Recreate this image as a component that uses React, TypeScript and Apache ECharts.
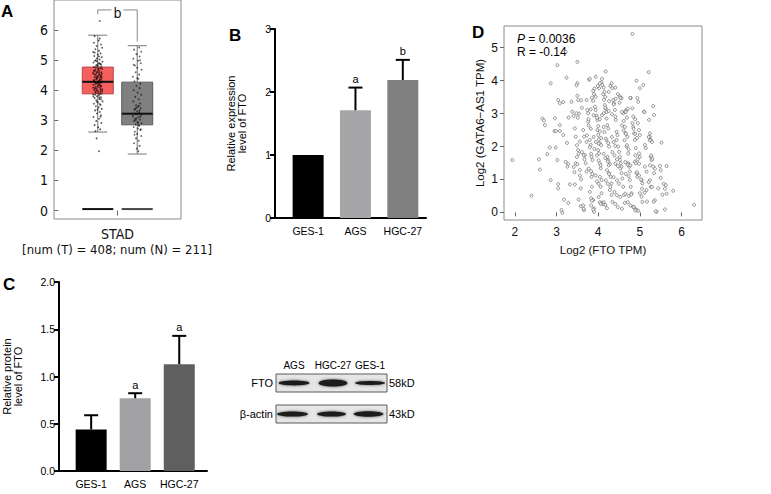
import React, { useEffect, useRef } from 'react';
import * as echarts from 'echarts';

const FONT = "'Liberation Sans', Arial, sans-serif";
const NARROW = "'Liberation Sans Narrow', 'DejaVu Sans Condensed', 'Liberation Sans', Arial, sans-serif";

// ---------- Panel A (GEPIA box plot) ----------
const aCategory = 'STAD';
const aSubtitle = '[num (T) = 408; num (N) = 211]';
const aTicks = [0, 1, 2, 3, 4, 5, 6];
const boxPositions = [1, 2];
// [min, Q1, median, Q3, max]
const tumorBox = [2.61, 3.88, 4.28, 4.77, 5.83];
const normalBox = [1.88, 2.85, 3.22, 4.27, 5.48];
const boxFloorLevel = [0.05, 0.05];
const boxFill = ['#f55f5f', '#808080'];
const boxStroke = ['#b94848', '#5c5c5c'];
const floorColor = ['#111111', '#444444'];
const aSigLabel = 'b';
// [leftX, rightX, top, leftEnd, rightEnd]
const aBracket = [1, 2, 6.67, 6.52, 5.62];
// [x offset, value]
const tumorJitter = [
  [-0.08, 5.80], [0.05, 5.72], [0.02, 5.65], [-0.10, 5.58], [0.08, 5.52], [-0.03, 5.47], [0.11, 5.41], [-0.06, 5.36],
  [0.03, 5.31], [-0.12, 5.27], [0.07, 5.22], [0.00, 5.18], [-0.09, 5.14], [0.10, 5.10], [-0.02, 5.06], [0.05, 5.02],
  [-0.07, 4.98], [0.12, 4.95], [-0.11, 4.92], [0.02, 4.89], [0.08, 4.86], [-0.04, 4.83], [0.00, 4.80], [-0.10, 4.77],
  [0.06, 4.74], [0.11, 4.71], [-0.06, 4.68], [0.03, 4.65], [-0.01, 4.62], [0.09, 4.60], [-0.12, 4.57], [0.04, 4.54],
  [-0.05, 4.52], [0.07, 4.49], [0.00, 4.46], [-0.08, 4.44], [0.10, 4.41], [-0.03, 4.39], [0.05, 4.36], [-0.10, 4.34],
  [0.02, 4.31], [0.12, 4.29], [-0.06, 4.27], [0.08, 4.25], [-0.02, 4.22], [0.04, 4.20], [-0.11, 4.18], [0.01, 4.15],
  [0.09, 4.13], [-0.07, 4.11], [0.05, 4.08], [-0.03, 4.06], [0.11, 4.03], [-0.09, 4.01], [0.00, 3.98], [0.06, 3.95],
  [-0.05, 3.92], [0.10, 3.89], [-0.12, 3.86], [0.03, 3.83], [-0.02, 3.80], [0.08, 3.77], [-0.08, 3.74], [0.04, 3.71],
  [-0.04, 3.67], [0.12, 3.63], [0.00, 3.59], [-0.10, 3.55], [0.07, 3.51], [-0.05, 3.47], [0.02, 3.43], [0.10, 3.38],
  [-0.07, 3.33], [0.05, 3.28], [-0.02, 3.23], [0.08, 3.17], [-0.11, 3.11], [0.03, 3.05], [-0.04, 2.98], [0.09, 2.91],
  [-0.08, 2.84], [0.01, 2.77], [0.06, 2.70], [-0.06, 2.64], [-0.03, 2.40], [0.03, 1.97], [0.05, 6.30],
  [0.01, 4.72], [-0.03, 4.58], [0.06, 4.43], [-0.09, 4.32], [0.03, 4.24], [-0.01, 4.12], [0.07, 4.02], [-0.06, 3.94],
  [0.10, 4.55], [-0.10, 4.65], [0.04, 4.90], [-0.05, 5.00], [0.08, 3.70], [-0.02, 3.62], [0.02, 4.50], [-0.04, 4.37],
  [0.05, 4.17], [-0.07, 4.05], [0.09, 4.79], [-0.01, 4.84], [0.03, 5.12], [-0.08, 5.25], [0.06, 3.88], [-0.11, 3.79],
  [-0.01, 4.41], [0.04, 4.33], [-0.06, 4.21], [0.07, 4.14], [-0.03, 4.00], [0.01, 3.91], [0.09, 4.47], [-0.09, 4.53],
  [0.02, 4.69], [-0.05, 4.76], [0.06, 4.87], [-0.02, 4.96], [0.11, 3.97], [-0.07, 3.85], [0.04, 3.76], [-0.12, 4.08],
  [0.00, 4.26], [0.08, 4.35], [-0.04, 4.45], [0.03, 4.59], [-0.08, 4.63], [0.05, 3.54], [-0.01, 3.35], [0.07, 3.12],
];
const normalJitter = [
  [0.05, 5.42], [-0.08, 5.35], [0.10, 5.28], [-0.02, 5.20], [0.06, 5.12], [-0.10, 5.05], [0.02, 4.98], [0.09, 4.90],
  [-0.06, 4.82], [0.00, 4.75], [0.11, 4.68], [-0.04, 4.60], [0.05, 4.52], [-0.11, 4.45], [0.03, 4.38], [-0.07, 4.30],
  [0.08, 4.22], [-0.02, 4.15], [0.06, 4.07], [-0.09, 4.00], [0.01, 3.92], [0.10, 3.85], [-0.05, 3.78], [0.04, 3.70],
  [-0.10, 3.63], [0.07, 3.56], [-0.03, 3.50], [0.02, 3.45], [0.09, 3.40], [-0.07, 3.35], [0.00, 3.30], [0.05, 3.26],
  [-0.05, 3.22], [0.10, 3.18], [-0.11, 3.14], [0.03, 3.10], [-0.02, 3.06], [0.07, 3.02], [-0.08, 2.98], [0.01, 2.94],
  [0.11, 2.90], [-0.04, 2.86], [0.05, 2.82], [-0.09, 2.78], [0.02, 2.73], [0.08, 2.68], [-0.06, 2.62], [0.00, 2.55],
  [0.10, 2.48], [-0.03, 2.40], [0.04, 2.32], [-0.08, 2.24], [0.06, 2.15], [-0.01, 2.06], [0.03, 1.97], [-0.05, 3.38],
  [0.06, 3.33], [-0.01, 3.20], [0.08, 3.12], [-0.06, 3.05], [0.02, 2.92], [0.04, 3.48], [-0.09, 4.85], [0.07, 5.00],
  [0.00, 4.40], [-0.04, 3.00], [0.03, 2.84], [-0.02, 3.42], [0.09, 2.70], [-0.07, 2.52],
];

// ---------- Panels B and C (bar charts) ----------
const cellLines = ['GES-1', 'AGS', 'HGC-27'];
const barPositions = [1, 2, 3];
const mrnaMean = [1.0, 1.71, 2.19];
const mrnaErrTop = [1.0, 2.07, 2.51];
const mrnaSig = ['', 'a', 'b'];
const mrnaColors = ['#000000', '#a6a6a9', '#808080'];
const proteinMean = [0.44, 0.77, 1.13];
const proteinErrTop = [0.59, 0.823, 1.43];
const proteinSig = ['', 'a', 'a'];
const proteinColors = ['#000000', '#a2a2a5', '#5f5f5f'];

// ---------- Western blot ----------
const blotLanes = ['AGS', 'HGC-27', 'GES-1'];
const blotRows = ['FTO', 'β-actin'];
const blotSizes = ['58kD', '43kD'];
const ftoBandThickness = [2.4, 3.6, 2.0];
const actinBandThickness = [2.6, 2.6, 2.7];

// ---------- Panel D (scatter) ----------
const dTicksX = [2, 3, 4, 5, 6];
const dTicksY = [0, 1, 2, 3, 4, 5];
const dStatP = '0.0036';
const dStatR = '-0.14';
// [Log2 FTO TPM, Log2 GATA6-AS1 TPM]
const scatterPoints = [
  [1.94, 1.59], [2.40, 0.51], [2.58, 1.61], [2.60, 1.30], [2.66, 2.85], [2.70, 2.79], [2.72, 2.65], [2.78, 1.77],
  [2.84, 1.97], [2.86, 3.92], [2.86, 0.98], [2.96, 2.86], [2.98, 1.97], [3.02, 4.47], [3.04, 3.41], [3.08, 3.31],
  [3.02, 1.59], [3.04, 0.86], [3.04, 0.73], [3.08, 2.65], [3.08, 2.47], [3.12, 0.07], [3.14, -0.01], [3.16, 2.35],
  [3.24, 4.09], [3.22, 1.53], [3.28, 1.47], [3.26, 1.39], [3.28, 0.29], [3.32, 0.85], [3.44, 0.85], [3.36, 3.36],
  [3.38, 3.06], [3.44, 2.55], [3.46, 2.30], [3.50, 4.57], [3.50, 3.92], [3.50, 3.54], [3.52, 3.41], [3.54, 3.00],
  [3.46, 1.49], [3.50, 1.46], [3.52, 1.89], [3.56, 2.15], [3.56, 1.29], [3.58, 0.73], [3.58, 0.19], [3.64, 2.50],
  [3.66, 2.30], [3.68, 1.74], [3.70, 1.49], [3.72, 1.24], [3.66, 0.07], [3.72, 3.41], [3.74, 3.11], [3.76, 3.01],
  [3.76, 2.76], [3.78, 4.03], [3.80, 2.20], [3.82, 2.05], [3.84, 1.69], [3.86, 1.59], [3.84, 1.08], [3.85, 0.78],
  [3.88, 0.37], [3.90, 0.12], [3.90, 0.02], [3.88, 3.69], [3.90, 3.59], [3.88, 3.39], [3.92, 3.21], [3.94, 3.11],
  [3.96, 2.94], [3.94, 4.12], [3.98, 2.81], [4.00, 2.62], [3.98, 2.50], [4.00, 2.35], [4.02, 2.22], [4.04, 2.10],
  [4.00, 1.89], [4.02, 1.79], [4.04, 1.49], [4.06, 1.34], [4.04, 1.08], [4.08, 0.98], [4.06, 0.78], [4.08, 0.58],
  [4.10, 0.29], [4.12, 0.25], [4.02, 3.77], [4.08, 3.95], [4.10, 3.87], [4.12, 3.59], [4.14, 3.42], [4.16, 3.26],
  [4.18, 3.15], [4.20, 3.05], [4.18, 4.28], [4.20, 2.85], [4.22, 2.65], [4.24, 2.55], [4.20, 2.20], [4.24, 2.10],
  [4.26, 2.00], [4.22, 1.69], [4.24, 1.59], [4.28, 1.47], [4.26, 1.19], [4.30, 1.08], [4.32, 0.88], [4.28, 0.68],
  [4.32, 0.53], [4.34, 0.32], [4.32, 3.92], [4.34, 3.77], [4.36, 3.41], [4.38, 3.31], [4.40, 3.11], [4.42, 2.81],
  [4.44, 2.45], [4.46, 2.35], [4.44, 2.20], [4.48, 2.00], [4.50, 1.84], [4.52, 1.69], [4.52, 1.59], [4.54, 1.49],
  [4.56, 1.39], [4.56, 1.19], [4.58, 1.03], [4.60, 0.78], [4.62, 0.53], [4.64, 0.29], [4.52, 3.52], [4.56, 3.47],
  [4.60, 3.01], [4.64, 3.06], [4.68, 3.11], [4.64, 2.60], [4.66, 2.40], [4.70, 2.30], [4.68, 2.00], [4.72, 1.79],
  [4.72, 1.49], [4.74, 1.39], [4.76, 1.24], [4.76, 0.98], [4.78, 0.78], [4.80, 0.58], [4.78, 3.47], [4.82, 5.42],
  [4.82, 3.16], [4.84, 2.91], [4.84, 2.60], [4.86, 2.40], [4.88, 2.20], [4.90, 1.95], [4.88, 1.54], [4.90, 1.49],
  [4.92, 1.19], [4.94, 1.08], [4.84, 0.17], [4.88, 0.12], [4.92, 0.07], [4.96, 0.05], [4.92, 4.00], [4.94, 3.47],
  [4.96, 3.36], [4.98, 2.50], [5.00, 2.35], [4.98, 1.79], [5.00, 1.69], [5.00, 3.77], [5.00, 0.58], [5.04, 0.48],
  [5.06, 0.32], [5.04, 0.98], [5.06, 0.88], [5.08, 3.87], [5.10, 3.06], [5.12, 2.05], [5.14, 1.95], [5.12, 1.39],
  [5.16, 1.24], [5.16, 0.68], [5.21, 4.26], [5.22, 2.81], [5.24, 2.40], [5.24, 2.30], [5.26, 2.20], [5.26, 1.69],
  [5.28, 1.59], [5.24, 0.98], [5.26, 0.78], [5.32, 3.23], [5.34, 2.96], [5.32, 1.39], [5.34, 1.19], [5.36, 0.37],
  [5.40, 0.02], [5.44, 0.73], [5.48, 1.41], [5.50, 1.28], [5.50, 1.05], [5.54, 0.54], [5.60, 0.09], [5.62, 0.83],
  [5.64, 1.41], [5.80, 0.66], [6.30, 0.23], [5.52, 2.12], [3.22, 4.88],
  [2.95, 2.47], [2.99, 2.47], [3.25, 2.11], [3.18, 0.39], [3.41, 1.38], [3.43, 1.22], [3.49, 2.04], [3.53, 1.78],
  [3.49, 1.68], [3.61, 1.83], [3.65, 1.73], [3.67, 1.61], [3.56, 1.12], [3.59, 1.00], [3.53, 0.39], [3.64, 0.21],
  [3.65, 0.11], [3.73, 2.34], [3.72, 2.14], [3.77, 2.64], [3.82, 2.54], [3.80, 1.98], [3.83, 1.78], [3.77, 1.33],
  [3.83, 1.25], [3.86, 1.17], [3.80, 0.62], [3.83, 0.43], [3.85, 0.36], [3.83, 0.21], [3.88, 0.09], [3.89, 2.29],
  [3.94, 2.14], [3.91, 1.93], [3.97, 1.73], [4.01, 1.58], [4.06, 1.43], [3.94, 1.12], [3.97, 0.94], [4.01, 0.87],
  [4.01, 0.47], [4.04, 0.31], [4.06, 0.26], [4.04, 2.46], [4.07, 2.26], [4.01, 2.09], [4.07, 2.04],
  [4.13, 2.59], [4.15, 2.44], [4.18, 2.24], [4.13, 1.78], [4.17, 1.65], [4.23, 1.55], [4.25, 1.43], [4.21, 1.28],
  [4.26, 1.17], [4.18, 0.97], [4.23, 0.87], [4.29, 0.77], [4.13, 0.31], [4.17, 0.23], [4.21, 0.13], [4.33, 2.29],
  [4.37, 2.14], [4.41, 2.02], [4.34, 1.83], [4.39, 1.73], [4.45, 1.61], [4.41, 1.48], [4.47, 1.41], [4.53, 1.33],
  [4.37, 1.07], [4.45, 0.97], [4.50, 0.87], [4.39, 0.62], [4.45, 0.52], [4.53, 0.47], [4.41, 0.26], [4.47, 0.16],
  [4.57, 0.11], [4.57, 2.64], [4.61, 2.49], [4.66, 2.39], [4.63, 2.19], [4.69, 2.04], [4.73, 1.91], [4.65, 1.53],
  [4.71, 1.45], [4.77, 1.43], [4.66, 1.17], [4.73, 1.10], [4.65, 0.57], [4.73, 0.50], [4.79, 0.54], [4.71, 0.31],
  [4.77, 0.21], [4.85, 0.16], [4.89, 0.06], [4.85, 2.54], [4.89, 2.39], [4.93, 2.26], [4.89, 1.73], [4.95, 1.61],
  [4.98, 1.48], [4.93, 1.22], [4.98, 1.12], [5.03, 1.00], [5.05, 0.72], [5.11, 0.60], [5.17, 0.33], [5.21, 2.29],
  [5.24, 2.19], [5.29, 2.14], [5.27, 1.73], [5.30, 1.63], [5.24, 1.43], [5.36, 1.33], [5.21, 0.92], [5.29, 0.77],
  [5.33, 0.33], [5.38, 0.03], [5.57, 0.87], [5.60, 0.72], [5.64, 0.57],
  [3.48, 3.86], [3.80, 4.06], [3.91, 3.76], [3.16, 3.35], [3.59, 3.40], [3.85, 3.48], [3.94, 3.51], [3.99, 3.84],
  [4.04, 3.92], [3.29, 2.88], [3.41, 2.93], [3.48, 3.01], [3.51, 2.88], [3.77, 2.83], [3.89, 2.95], [3.97, 2.88],
  [4.04, 2.83], [4.09, 2.95], [3.61, 3.18], [3.82, 3.13], [4.09, 4.06], [4.13, 3.79], [4.41, 3.79], [4.29, 3.84],
  [4.15, 3.66], [4.25, 3.66], [4.17, 3.51], [4.26, 3.38], [4.37, 3.28], [4.47, 3.59], [4.53, 3.48], [4.42, 3.45],
  [4.51, 3.33], [4.77, 3.48], [4.71, 3.15], [4.17, 3.18], [4.25, 3.08], [4.13, 3.01], [4.33, 2.98], [4.41, 2.91],
  [4.57, 3.05], [4.66, 3.05], [4.69, 2.88], [4.61, 2.78], [5.11, 3.05], [4.89, 2.83], [4.82, 2.71], [4.95, 2.71],
];

function errorBarSeries(xAxisIndex: number, yAxisIndex: number, means: number[], tops: number[], sig: string[]) {
  return {
    type: 'custom',
    xAxisIndex,
    yAxisIndex,
    z: 5,
    data: barPositions.map((x, i) => [x, means[i], tops[i]]),
    renderItem: (params: any, api: any) => {
      const x = api.value(0);
      const base = api.coord([x, api.value(1)]);
      const top = api.coord([x, api.value(2)]);
      const children: any[] = [];
      if (Math.abs(base[1] - top[1]) > 0.5) {
        children.push({ type: 'line', shape: { x1: base[0], y1: base[1], x2: top[0], y2: top[1] }, style: { stroke: '#000', lineWidth: 2 } });
        children.push({ type: 'line', shape: { x1: top[0] - 7, y1: top[1], x2: top[0] + 7, y2: top[1] }, style: { stroke: '#000', lineWidth: 2 } });
      }
      const s = sig[params.dataIndex];
      if (s) {
        children.push({ type: 'text', x: top[0], y: top[1] - 3, style: { text: s, fontSize: 11, fontFamily: FONT, fill: '#000', align: 'center', verticalAlign: 'bottom' } });
      }
      return { type: 'group', children };
    },
  };
}

function barAxisX(gridIndex: number, min: number, max: number) {
  return {
    type: 'value', gridIndex, min, max,
    axisLine: { show: true, onZero: false, lineStyle: { color: '#000', width: 2 } },
    axisTick: { show: false },
    splitLine: { show: false },
    axisLabel: {
      customValues: barPositions, color: '#000', fontSize: 10.5, fontFamily: FONT, margin: 7,
      formatter: (v: number) => cellLines[Math.round(v) - 1] ?? '',
    },
  };
}

export default function App() {
  const ref = useRef<HTMLDivElement>(null);
  useEffect(() => {
    document.body.style.margin = '0';
    const chart = echarts.init(ref.current!, undefined, { renderer: 'svg' });

    const blotLeft = 276, blotRight = 387, ftoTop = 374, actinTop = 405, stripH = 18;
    const laneCenters = [294, 333, 370];
    const laneHalfW = [15.5, 14.5, 15];
    const graphic: any[] = [
      { type: 'text', x: 1, y: 3, style: { text: 'A', fontSize: 17, fontWeight: 'bold', fontFamily: FONT, fill: '#000' } },
      { type: 'text', x: 229, y: 27, style: { text: 'B', fontSize: 17, fontWeight: 'bold', fontFamily: FONT, fill: '#000' } },
      { type: 'text', x: 3, y: 276, style: { text: 'C', fontSize: 17, fontWeight: 'bold', fontFamily: FONT, fill: '#000' } },
      { type: 'text', x: 472, y: 24, style: { text: 'D', fontSize: 17, fontWeight: 'bold', fontFamily: FONT, fill: '#000' } },
      { type: 'text', x: 117, y: 249, style: { text: aSubtitle, fontSize: 13, fontFamily: NARROW, fill: '#111', align: 'center', verticalAlign: 'middle' } },
      {
        type: 'text', x: 517, y: 33,
        style: {
          text: '{i|P} = ' + dStatP + '\nR = ' + dStatR, fontSize: 12, lineHeight: 12.5, fontFamily: FONT, fill: '#000',
          rich: { i: { fontStyle: 'italic', fontSize: 12, fontFamily: FONT } },
        },
      },
      // western blot
      ...blotLanes.map((l, i) => ({ type: 'text', x: laneCenters[i], y: 365, style: { text: l, fontSize: 10, fontFamily: FONT, fill: '#000', align: 'center', verticalAlign: 'middle' } })),
      { type: 'rect', shape: { x: blotLeft, y: ftoTop, width: blotRight - blotLeft, height: stripH }, style: { fill: '#e6e6e6', stroke: '#5a5a5a', lineWidth: 1 } },
      { type: 'rect', shape: { x: blotLeft, y: actinTop, width: blotRight - blotLeft, height: stripH }, style: { fill: '#e6e6e6', stroke: '#5a5a5a', lineWidth: 1 } },
      ...ftoBandThickness.map((t, i) => ({ type: 'ellipse', shape: { cx: laneCenters[i], cy: ftoTop + stripH / 2, rx: laneHalfW[i], ry: t }, style: { fill: '#1c1c1c', shadowBlur: 3, shadowColor: 'rgba(0,0,0,0.6)' } })),
      ...actinBandThickness.map((t, i) => ({ type: 'ellipse', shape: { cx: laneCenters[i] - 1.5, cy: actinTop + stripH / 2, rx: laneHalfW[i], ry: t }, style: { fill: '#1c1c1c', shadowBlur: 3, shadowColor: 'rgba(0,0,0,0.6)' } })),
      ...blotRows.map((r, i) => ({ type: 'text', x: blotLeft - 3, y: (i === 0 ? ftoTop : actinTop) + stripH / 2, style: { text: r, fontSize: 11, fontFamily: FONT, fill: '#000', align: 'right', verticalAlign: 'middle' } })),
      ...blotSizes.map((s, i) => ({ type: 'text', x: blotRight + 2, y: (i === 0 ? ftoTop : actinTop) + stripH / 2, style: { text: s, fontSize: 11, fontFamily: FONT, fill: '#000', align: 'left', verticalAlign: 'middle' } })),
    ];

    const option: any = {
      animation: false,
      backgroundColor: '#fff',
      textStyle: { fontFamily: FONT },
      grid: [
        { left: 54, top: -2, width: 127, height: 221, show: true, borderColor: '#8a8a8a', borderWidth: 1, backgroundColor: 'transparent' },
        { left: 275, top: 29, width: 151, height: 189 },
        { left: 52, top: 282, width: 155, height: 189 },
        { left: 504, top: 26, width: 198, height: 194, show: true, borderColor: '#8a8a8a', borderWidth: 1, backgroundColor: 'transparent' },
      ],
      xAxis: [
        {
          type: 'value', gridIndex: 0, min: -0.11, max: 3.11,
          axisLine: { show: false }, splitLine: { show: false },
          axisTick: { customValues: [1.5], length: 5, lineStyle: { color: '#666' } },
          axisLabel: { customValues: [1.5], formatter: () => aCategory, fontSize: 14, fontFamily: NARROW, color: '#111', margin: 8 },
        },
        barAxisX(1, 0.3, 3.49),
        barAxisX(2, 0.27, 3.63),
        {
          type: 'value', gridIndex: 3, min: 1.74, max: 6.49,
          axisLine: { show: false }, splitLine: { show: false },
          axisTick: { customValues: dTicksX, length: 4, lineStyle: { color: '#666' } },
          axisLabel: { customValues: dTicksX, fontSize: 12, fontFamily: FONT, color: '#111', margin: 6 },
          name: 'Log2 (FTO TPM)', nameLocation: 'middle', nameGap: 24,
          nameTextStyle: { fontSize: 11.5, fontFamily: FONT, color: '#111', verticalAlign: 'top' },
        },
      ],
      yAxis: [
        {
          type: 'value', gridIndex: 0, min: -0.28, max: 7.0, offset: 3,
          axisLine: { show: false }, splitLine: { show: false },
          axisTick: { customValues: aTicks, length: 4, lineStyle: { color: '#666' } },
          axisLabel: { customValues: aTicks, fontSize: 14, fontFamily: NARROW, color: '#111', margin: 3 },
        },
        {
          type: 'value', gridIndex: 1, min: 0, max: 3, interval: 1,
          axisLine: { show: true, lineStyle: { color: '#000', width: 2 } },
          axisTick: { show: true, length: 5, lineStyle: { color: '#000', width: 2 } },
          splitLine: { show: false },
          axisLabel: { fontSize: 10.5, fontFamily: FONT, color: '#000', margin: 4 },
          name: 'Relative expression\nlevel of FTO', nameLocation: 'middle', nameGap: 28,
          nameTextStyle: { fontSize: 11, lineHeight: 11, fontFamily: FONT, color: '#000' },
        },
        {
          type: 'value', gridIndex: 2, min: 0, max: 2, interval: 0.5,
          axisLine: { show: true, lineStyle: { color: '#000', width: 2 } },
          axisTick: { show: true, length: 5, lineStyle: { color: '#000', width: 2 } },
          splitLine: { show: false },
          axisLabel: { fontSize: 10.5, fontFamily: FONT, color: '#000', margin: 4, formatter: (v: number) => v.toFixed(1) },
          name: 'Relative protein\nlevel of FTO', nameLocation: 'middle', nameGap: 36,
          nameTextStyle: { fontSize: 11, lineHeight: 11, fontFamily: FONT, color: '#000' },
        },
        {
          type: 'value', gridIndex: 3, min: -0.23, max: 5.66,
          axisLine: { show: false }, splitLine: { show: false },
          axisTick: { customValues: dTicksY, length: 4, lineStyle: { color: '#666' } },
          axisLabel: { customValues: dTicksY, fontSize: 12, fontFamily: FONT, color: '#111', margin: 6 },
          name: 'Log2 (GATA6\u2212AS1 TPM)', nameLocation: 'middle', nameGap: 18,
          nameTextStyle: { fontSize: 11.5, fontFamily: FONT, color: '#111' },
        },
      ],
      series: [
        // Panel A boxes
        {
          type: 'custom', xAxisIndex: 0, yAxisIndex: 0, z: 2,
          data: [[boxPositions[0], ...tumorBox, boxFloorLevel[0]], [boxPositions[1], ...normalBox, boxFloorLevel[1]]],
          renderItem: (params: any, api: any) => {
            const i = params.dataIndex;
            const x = api.value(0);
            const p = [1, 2, 3, 4, 5].map((k) => api.coord([x, api.value(k)]));
            const fl = api.coord([x, api.value(6)]);
            const cx = p[0][0];
            const hw = 15.5, cw = 9.5;
            const st = { stroke: '#777', lineWidth: 1 };
            return {
              type: 'group',
              children: [
                { type: 'line', shape: { x1: cx, y1: p[4][1], x2: cx, y2: p[3][1] }, style: st },
                { type: 'line', shape: { x1: cx, y1: p[1][1], x2: cx, y2: p[0][1] }, style: st },
                { type: 'line', shape: { x1: cx - cw, y1: p[4][1], x2: cx + cw, y2: p[4][1] }, style: st },
                { type: 'line', shape: { x1: cx - cw, y1: p[0][1], x2: cx + cw, y2: p[0][1] }, style: st },
                { type: 'rect', shape: { x: cx - hw, y: p[3][1], width: hw * 2, height: p[1][1] - p[3][1] }, style: { fill: boxFill[i], stroke: boxStroke[i], lineWidth: 1 } },
                { type: 'line', shape: { x1: cx - hw, y1: p[2][1], x2: cx + hw, y2: p[2][1] }, style: { stroke: '#111', lineWidth: 2 }, z2: 10 },
                { type: 'line', shape: { x1: cx - hw, y1: fl[1], x2: cx + hw, y2: fl[1] }, style: { stroke: floorColor[i], lineWidth: 2 } },
              ],
            };
          },
        },
        {
          type: 'scatter', xAxisIndex: 0, yAxisIndex: 0, z: 4, symbolSize: 1.8,
          itemStyle: { color: 'rgba(0,0,0,0.8)' },
          data: tumorJitter.map(([o, v]) => [boxPositions[0] + o, v]),
        },
        {
          type: 'scatter', xAxisIndex: 0, yAxisIndex: 0, z: 4, symbolSize: 1.8,
          itemStyle: { color: 'rgba(0,0,0,0.75)' },
          data: normalJitter.map(([o, v]) => [boxPositions[1] + o, v]),
        },
        {
          type: 'custom', xAxisIndex: 0, yAxisIndex: 0, z: 6,
          data: [aBracket],
          renderItem: (params: any, api: any) => {
            const l = api.coord([api.value(0), api.value(2)]);
            const r = api.coord([api.value(1), api.value(2)]);
            const le = api.coord([api.value(0), api.value(3)]);
            const re = api.coord([api.value(1), api.value(4)]);
            const st = { stroke: '#888', lineWidth: 1 };
            return {
              type: 'group',
              children: [
                { type: 'line', shape: { x1: le[0], y1: le[1], x2: l[0], y2: l[1] }, style: st },
                { type: 'line', shape: { x1: l[0], y1: l[1], x2: l[0] + (r[0] - l[0]) / 2 - 6, y2: l[1] }, style: st },
                { type: 'line', shape: { x1: l[0] + (r[0] - l[0]) / 2 + 6, y1: l[1], x2: r[0], y2: r[1] }, style: st },
                { type: 'line', shape: { x1: r[0], y1: r[1], x2: re[0], y2: re[1] }, style: st },
                { type: 'text', x: (l[0] + r[0]) / 2, y: l[1] + 3, style: { text: aSigLabel, fontSize: 14, fontFamily: NARROW, fill: '#111', align: 'center', verticalAlign: 'middle' } },
              ],
            };
          },
        },
        // Panel B
        {
          type: 'bar', xAxisIndex: 1, yAxisIndex: 1, barWidth: 31,
          data: barPositions.map((x, i) => ({ value: [x, mrnaMean[i]], itemStyle: { color: mrnaColors[i] } })),
        },
        errorBarSeries(1, 1, mrnaMean, mrnaErrTop, mrnaSig),
        // Panel C
        {
          type: 'bar', xAxisIndex: 2, yAxisIndex: 2, barWidth: 31,
          data: barPositions.map((x, i) => ({ value: [x, proteinMean[i]], itemStyle: { color: proteinColors[i] } })),
        },
        errorBarSeries(2, 2, proteinMean, proteinErrTop, proteinSig),
        // Panel D
        {
          type: 'scatter', xAxisIndex: 3, yAxisIndex: 3, symbol: 'circle', symbolSize: 3,
          itemStyle: { color: '#ffffff', borderColor: '#555555', borderWidth: 0.8 },
          data: scatterPoints,
        },
      ],
      graphic,
    };
    chart.setOption(option);
    return () => chart.dispose();
  }, []);
  return <div ref={ref} style={{ width: 771, height: 494 }} />;
}
